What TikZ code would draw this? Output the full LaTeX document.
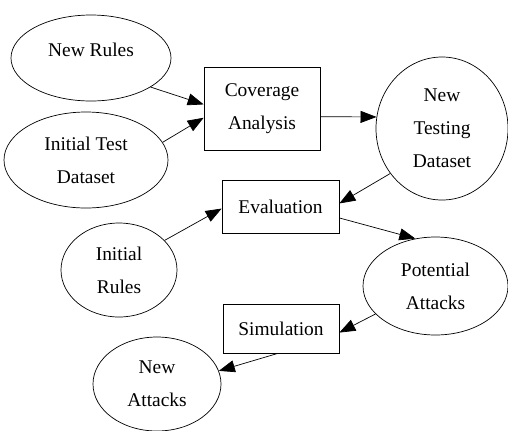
\documentclass[tikz,border=0pt]{standalone}
\usepackage{fontspec}
\setmainfont{Liberation Serif}
\usetikzlibrary{shapes.geometric,arrows.meta}

\tikzset{
  oval/.style={draw, ellipse, inner sep=0pt, align=center},
  stage/.style={draw, rectangle, inner sep=0pt, align=center},
  flow/.style={-{Triangle[length=16bp,width=12bp]}}
}

\begin{document}
\begin{tikzpicture}[x=1bp,y=-1bp,line width=0.7bp,font=\fontsize{19.5}{33}\selectfont]
\useasboundingbox (0,0) rectangle (508,430);

% inputs on the left
\node [oval, minimum width=160bp, minimum height=86bp, text depth=16bp] (nr) at (91,58) {New Rules};
\node [oval, minimum width=164bp, minimum height=96bp] (it) at (86,160) {Initial Test\\Dataset};
\node [oval, minimum width=116bp, minimum height=94bp] (ir) at (119,270) {Initial\\Rules};
\node [oval, minimum width=128bp, minimum height=94bp] (na) at (157,384) {New\\Attacks};

% processing steps
\node [stage, minimum width=116bp, minimum height=83bp] (ca) at (262,108.5) {Coverage\\Analysis};
\node [stage, minimum width=117bp, minimum height=53bp] (ev) at (280.5,206.5) {Evaluation};
\node [stage, minimum width=116bp, minimum height=49bp] (sm) at (281,328.5) {Simulation};

% outputs on the right
\node [oval, minimum width=132bp, minimum height=143bp] (nt) at (442,128.5) {New\\Testing\\Dataset};
\node [oval, minimum width=145bp, minimum height=98bp] (pa) at (435.5,286) {Potential\\Attacks};

\draw [flow] (nr.-26) -- (ca.176);
\draw [flow] (it.13) -- (ca.189);
\draw [flow] (ca.-8) -- (nt.170);
\draw [flow] (nt.221) -- (ev.3);
\draw [flow] (ir.33) -- (ev.182);
\draw [flow] (ev.-11) -- (pa.113);
\draw [flow] (pa.205) -- (sm.-4);
\draw [flow] (sm.263) -- (na.12);

\end{tikzpicture}
\end{document}
